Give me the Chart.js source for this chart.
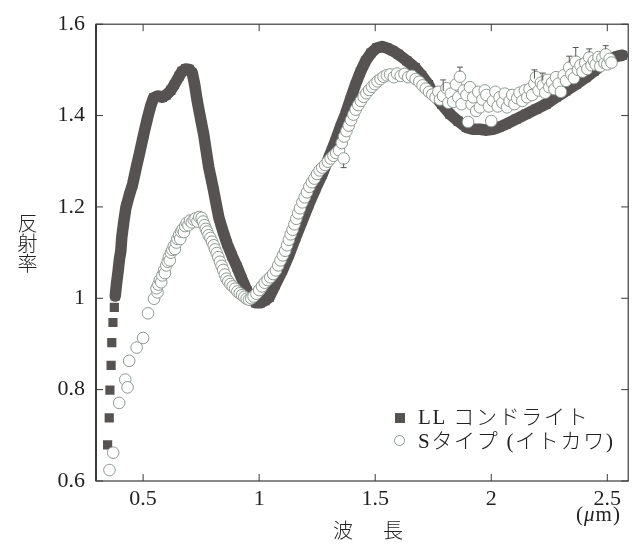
<!DOCTYPE html>
<html lang="ja">
<head>
<meta charset="UTF-8">
<title>反射率スペクトル</title>
<script src="https://cdn.jsdelivr.net/npm/chart.js@4"></script>
<style>
    body {
        margin: 0;
        background: #fff;
        color: #222;
        font-family: "Liberation Serif", "Noto Sans CJK JP", serif;
        overflow: hidden;
    }
    .wrap { position: relative; width: 635px; height: 545px; }
    canvas { position: absolute; left: 0; top: 0; }
    .lbl { position: absolute; white-space: nowrap; line-height: 1; }
    .ytitle { left: 17px; top: 213px; font-size: 20px; writing-mode: vertical-rl; font-family: "Noto Sans CJK JP"; font-weight: 300; }
    .xtitle { left: 333px; top: 520px; font-size: 20px; letter-spacing: 5px; font-family: "Noto Sans CJK JP"; font-weight: 300; }
    .unit { left: 576px; top: 504px; font-size: 21px; letter-spacing: 1px; }
    .leg { left: 418px; font-size: 21px; letter-spacing: 1.7px; font-weight: 300; }
    .mk { position: absolute; }
</style>
</head>
<body>
<div class="wrap">
    <canvas id="chart" width="635" height="545"></canvas>
    <div class="lbl ytitle">反射率</div>
    <div class="lbl xtitle">波　長</div>
    <div class="lbl unit">(<i>μ</i>m)</div>
    <div class="mk" style="left:395px;top:413px;width:10px;height:10px;background:#575252;"></div>
    <div class="lbl leg" style="top:407px;">LL コンドライト</div>
    <div class="mk" style="left:394px;top:435px;width:9px;height:9px;border:1px solid #8c9990;border-radius:50%;background:#fff;"></div>
    <div class="lbl leg" style="top:431px;">Sタイプ (イトカワ)</div>
</div>
<script>
    // tick positions
    const xTicks = [0.5, 1, 1.5, 2, 2.5];
    const yTicks = [0.6, 0.8, 1, 1.2, 1.4, 1.6];

    // LL chondrite (filled squares)
    const llX = [0.347, 0.354, 0.357, 0.362, 0.365, 0.370, 0.376,
        0.380, 0.385, 0.392, 0.398, 0.404, 0.408, 0.416, 0.426, 0.440, 0.455, 0.470, 0.487, 0.503, 0.519,
        0.532, 0.545, 0.565, 0.583, 0.600, 0.619, 0.635, 0.655, 0.668, 0.683, 0.698, 0.712, 0.722, 0.733,
        0.747, 0.761, 0.772, 0.783, 0.794, 0.804, 0.815, 0.826, 0.843, 0.862, 0.883, 0.905, 0.926, 0.947,
        0.965, 0.985, 1.005, 1.025, 1.043, 1.070, 1.100, 1.130, 1.157, 1.186, 1.214, 1.243, 1.272, 1.300,
        1.329, 1.350, 1.372, 1.393, 1.415, 1.436, 1.458, 1.482, 1.507, 1.530, 1.550, 1.575, 1.600, 1.636,
        1.672, 1.700, 1.729, 1.750, 1.786, 1.822, 1.857, 1.893, 1.920, 1.951, 1.980, 2.007, 2.035, 2.064,
        2.107, 2.150, 2.193, 2.236, 2.279, 2.322, 2.365, 2.407, 2.443, 2.479, 2.500, 2.522, 2.545, 2.565];
    const llY = [0.679, 0.738, 0.799, 0.853, 0.903, 0.947, 0.980,
        1.005, 1.030, 1.058, 1.085, 1.104, 1.133, 1.165, 1.199, 1.225, 1.250, 1.285, 1.323, 1.360, 1.395,
        1.420, 1.439, 1.443, 1.440, 1.445, 1.455, 1.468, 1.486, 1.497, 1.502, 1.501, 1.493, 1.468, 1.432,
        1.395, 1.359, 1.322, 1.286, 1.260, 1.235, 1.206, 1.177, 1.148, 1.119, 1.093, 1.068, 1.042, 1.017,
        0.998, 0.990, 0.990, 0.995, 1.002, 1.030, 1.061, 1.097, 1.133, 1.170, 1.206, 1.240, 1.272, 1.308,
        1.345, 1.375, 1.403, 1.435, 1.468, 1.495, 1.519, 1.537, 1.548, 1.551, 1.548, 1.542, 1.534, 1.520,
        1.505, 1.488, 1.468, 1.447, 1.425, 1.403, 1.388, 1.374, 1.370, 1.370, 1.368, 1.370, 1.375, 1.381,
        1.392, 1.403, 1.414, 1.425, 1.440, 1.454, 1.468, 1.483, 1.497, 1.512, 1.520, 1.526, 1.530, 1.532];

    // S-type, Itokawa (open circles)
    const sX = [0.355, 0.371, 0.397, 0.423, 0.433, 0.440, 0.472, 0.500, 0.521, 0.547, 0.562,
        0.558, 0.566, 0.572, 0.578, 0.583, 0.590, 0.594, 0.600, 0.606, 0.611, 0.615, 0.620, 0.626, 0.632,
        0.637, 0.643, 0.648, 0.655, 0.660, 0.664, 0.670, 0.676, 0.681, 0.688, 0.695, 0.702, 0.710, 0.718,
        0.726, 0.734, 0.742, 0.752, 0.758, 0.764, 0.770, 0.776, 0.782, 0.790, 0.797, 0.804, 0.810, 0.817,
        0.824, 0.831, 0.838, 0.845, 0.852, 0.859, 0.867, 0.876, 0.886, 0.896, 0.906, 0.916, 0.926, 0.936,
        0.946, 0.956, 0.966,
        0.976, 0.988, 1.000, 1.012, 1.024, 1.036, 1.048, 1.060, 1.072, 1.082, 1.092, 1.102, 1.112, 1.120,
        1.128, 1.136, 1.144, 1.152, 1.160, 1.168, 1.176, 1.186, 1.196, 1.206, 1.216, 1.227, 1.238, 1.249,
        1.260, 1.272, 1.284, 1.296, 1.308, 1.320, 1.332, 1.344, 1.364, 1.356, 1.366, 1.376, 1.386, 1.396,
        1.406, 1.416, 1.427, 1.438, 1.450, 1.462, 1.474, 1.486, 1.498, 1.510, 1.523, 1.536, 1.550, 1.564,
        1.580, 1.594, 1.610, 1.626, 1.642, 1.658, 1.674, 1.690, 1.704, 1.718,
        1.732, 1.746, 1.760, 1.772, 1.779, 1.792, 1.807, 1.815, 1.826, 1.836, 1.848, 1.858, 1.865, 1.872,
        1.882, 1.893, 1.900, 1.908, 1.915, 1.922, 1.935, 1.944, 1.951, 1.962, 1.972, 1.979, 1.990, 2.000,
        2.007, 2.018, 2.028, 2.036, 2.048, 2.058, 2.068, 2.079, 2.090, 2.100, 2.112, 2.122, 2.134, 2.145,
        2.155, 2.165, 2.176, 2.186, 2.193, 2.204, 2.214, 2.222, 2.232, 2.242, 2.250, 2.262, 2.272, 2.279,
        2.290, 2.300, 2.312, 2.322, 2.336, 2.345, 2.356, 2.364, 2.374, 2.384, 2.393, 2.405, 2.414, 2.422,
        2.432, 2.442, 2.450, 2.462, 2.470, 2.479, 2.488, 2.493, 2.500, 2.510, 2.518];
    const sY = [0.624, 0.662, 0.771, 0.822, 0.805, 0.863, 0.892, 0.913, 0.967, 0.999, 1.013,
        1.022, 1.030, 1.040, 1.035, 1.050, 1.061, 1.055, 1.072, 1.080, 1.090, 1.083, 1.100, 1.106, 1.114,
        1.108, 1.122, 1.130, 1.138, 1.130, 1.146, 1.151, 1.145, 1.158, 1.165, 1.160, 1.170, 1.166, 1.172,
        1.175, 1.168, 1.178, 1.176, 1.168, 1.160, 1.152, 1.146, 1.138, 1.132, 1.124, 1.116, 1.107, 1.099,
        1.090, 1.080, 1.071, 1.062, 1.052, 1.043, 1.037, 1.031, 1.026, 1.021, 1.015, 1.011, 1.007, 1.003,
        0.999, 0.997, 1.000,
        1.004, 1.010, 1.018, 1.026, 1.034, 1.040, 1.046, 1.053, 1.061, 1.072, 1.083, 1.094, 1.104, 1.116,
        1.128, 1.140, 1.150, 1.162, 1.174, 1.186, 1.197, 1.210, 1.221, 1.232, 1.244, 1.254, 1.262, 1.272,
        1.280, 1.286, 1.292, 1.299, 1.306, 1.312, 1.318, 1.324, 1.306, 1.340, 1.354, 1.366, 1.378, 1.390,
        1.402, 1.413, 1.423, 1.432, 1.441, 1.449, 1.456, 1.463, 1.469, 1.475, 1.480, 1.485, 1.488, 1.490,
        1.484, 1.492, 1.487, 1.491, 1.484, 1.487, 1.480, 1.474, 1.466, 1.459,
        1.452, 1.446, 1.440, 1.452, 1.435, 1.443, 1.460, 1.428, 1.448, 1.430, 1.468, 1.440, 1.485, 1.425,
        1.455, 1.445, 1.386, 1.462, 1.425, 1.440, 1.410, 1.452, 1.418, 1.435, 1.455, 1.445, 1.420, 1.388,
        1.432, 1.452, 1.420, 1.440, 1.428, 1.448, 1.418, 1.432, 1.445, 1.425, 1.438, 1.450, 1.432, 1.455,
        1.440, 1.458, 1.445, 1.470, 1.484, 1.455, 1.472, 1.466, 1.450, 1.478, 1.462, 1.472, 1.458, 1.484,
        1.470, 1.452, 1.488, 1.476, 1.505, 1.490, 1.482, 1.518, 1.500, 1.510, 1.496, 1.515, 1.502, 1.527,
        1.510, 1.520, 1.512, 1.528, 1.508, 1.526, 1.515, 1.534, 1.512, 1.524, 1.516];

    // error bars on some S points: x, point value, bar end
    const errX   = [1.364, 1.793, 1.865, 2.186, 2.222, 2.336, 2.364, 2.422, 2.436, 2.493];
    const errY   = [1.306, 1.443, 1.485, 1.470, 1.466, 1.505, 1.518, 1.527, 1.510, 1.534];
    const errEnd = [1.286, 1.478, 1.506, 1.500, 1.493, 1.530, 1.549, 1.546, 1.486, 1.553];

    const LL_COLOR = '#575252';
    const S_EDGE = '#8c9990';

    const framePlugin = {
        id: 'frame',
        afterDraw(chart) {
            const { ctx, chartArea: a, scales: { x, y } } = chart;
            ctx.save();
            // error bar stems + caps
            ctx.strokeStyle = '#555';
            ctx.lineWidth = 1;
            ctx.beginPath();
            errX.forEach((v, i) => {
                const px = x.getPixelForValue(v);
                const p0 = y.getPixelForValue(errY[i]);
                const p1 = y.getPixelForValue(errEnd[i]);
                const stemFrom = p1 < p0 ? p0 - 5 : p0 + 5;
                ctx.moveTo(px, stemFrom); ctx.lineTo(px, p1);
                ctx.moveTo(px - 3, p1); ctx.lineTo(px + 3, p1);
            });
            ctx.stroke();

            ctx.strokeStyle = '#3a3a3a';
            ctx.lineWidth = 1.2;
            ctx.strokeRect(a.left, a.top, a.right - a.left, a.bottom - a.top);
            // heavier left axis like the print
            ctx.lineWidth = 2;
            ctx.beginPath();
            ctx.moveTo(a.left, a.top);
            ctx.lineTo(a.left, a.bottom);
            ctx.stroke();
            ctx.lineWidth = 1;
            ctx.beginPath();
            xTicks.forEach(v => {
                const px = x.getPixelForValue(v);
                ctx.moveTo(px, a.bottom); ctx.lineTo(px, a.bottom - 7);
                ctx.moveTo(px, a.top); ctx.lineTo(px, a.top + 7);
            });
            yTicks.forEach(v => {
                const py = y.getPixelForValue(v);
                ctx.moveTo(a.left, py); ctx.lineTo(a.left + 7, py);
                ctx.moveTo(a.right, py); ctx.lineTo(a.right - 7, py);
            });
            ctx.stroke();
            ctx.restore();
        }
    };

    const tickFont = { family: 'Liberation Serif', size: 22 };

    new Chart(document.getElementById('chart'), {
        type: 'scatter',
        data: {
            datasets: [
                {
                    label: 'Sタイプ (イトカワ)',
                    data: sX.map((v, i) => ({ x: v, y: sY[i] })),
                    pointStyle: 'circle',
                    pointRadius: 5.8,
                    backgroundColor: '#fff',
                    borderColor: S_EDGE,
                    borderWidth: 1,
                    order: 0
                },
                {
                    label: 'LLコンドライト',
                    data: llX.map((v, i) => ({ x: v, y: llY[i] })),
                    showLine: true,
                    borderColor: LL_COLOR,
                    backgroundColor: LL_COLOR,
                    borderWidth: 11.5,
                    borderJoinStyle: 'round',
                    borderCapStyle: 'round',
                    pointStyle: 'rect',
                    pointRadius: 6.5,
                    pointBorderWidth: 0,
                    segment: {
                        borderColor: c => c.p0.parsed.y < 0.99 ? 'rgba(0,0,0,0)' : undefined
                    },
                    order: 1
                }
            ]
        },
        options: {
            responsive: false,
            animation: false,
            layout: { padding: { top: 23, right: 4, left: 0, bottom: 0 } },
            plugins: { legend: { display: false }, tooltip: { enabled: false } },
            scales: {
                x: {
                    type: 'linear',
                    min: 0.297,
                    max: 2.59,
                    afterBuildTicks: s => { s.ticks = xTicks.map(v => ({ value: v })); },
                    afterFit: s => { s.height = 64; },
                    grid: { display: false, drawTicks: false },
                    border: { display: false },
                    ticks: { padding: 5, font: tickFont, color: '#222', maxRotation: 0, callback: v => String(v) }
                },
                y: {
                    min: 0.6,
                    max: 1.6,
                    afterBuildTicks: s => { s.ticks = yTicks.map(v => ({ value: v })); },
                    afterFit: s => { s.width = 96; },
                    grid: { display: false, drawTicks: false },
                    border: { display: false },
                    ticks: { padding: 11, font: tickFont, color: '#222', callback: v => String(v) }
                }
            }
        },
        plugins: [framePlugin]
    });
</script>
</body>
</html>
